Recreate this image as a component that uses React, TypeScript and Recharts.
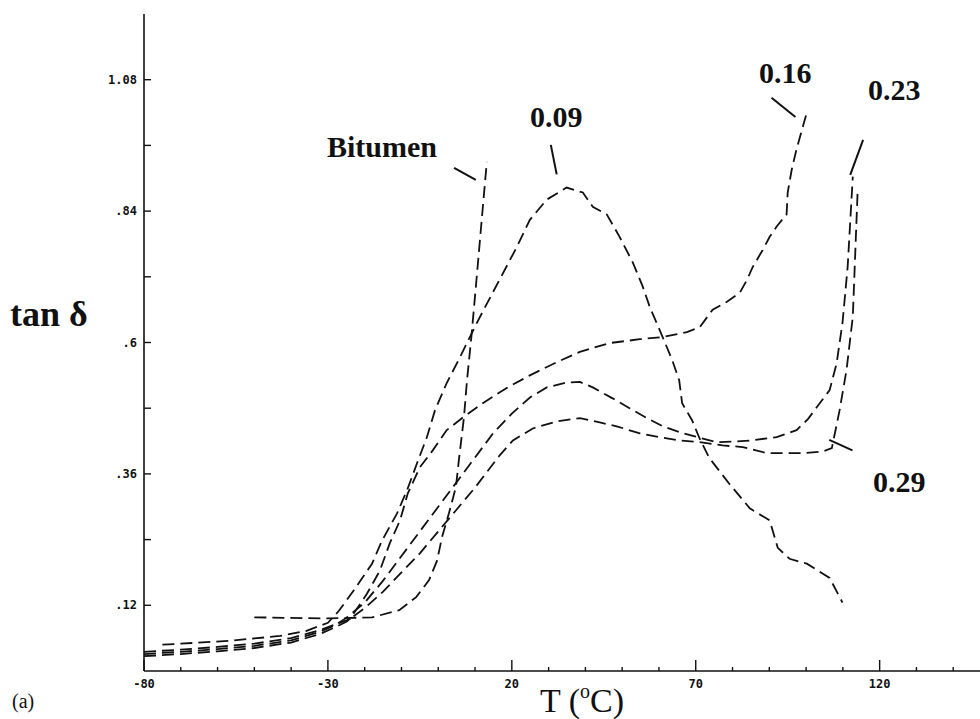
import React from 'react'
import { LineChart, Line, XAxis, YAxis, ReferenceLine } from 'recharts'

// tan delta vs temperature
const bitumenT = [-50, -30, -18, -10.6, -6, -2.5, -0.3, 1.0, 2.9, 4.8, 5.6, 7.0, 7.8, 9.0, 10.2, 11.5, 13.2]
const bitumenTan = [0.098, 0.096, 0.098, 0.111, 0.135, 0.166, 0.202, 0.244, 0.288, 0.336, 0.385, 0.464, 0.53, 0.61, 0.7, 0.8, 0.93]

const s009T = [-75, -57, -43, -36, -30, -27, -23, -18, -15.3, -11.2, -8.5, -5.8, -3.1, -0.9, 2.3, 5.9, 10.5, 14.8, 21.4, 24.9, 29.5, 34.9, 39.3, 42.0, 45.8, 49.3, 52.9, 55.6, 57.5, 61.0, 63.6, 65.5, 66.3, 69, 70.9, 73.6, 79.0, 84.7, 90.1, 92.3, 95.5, 100.2, 106.4, 109.9]
const s009Tan = [0.048, 0.055, 0.064, 0.073, 0.088, 0.11, 0.147, 0.196, 0.238, 0.288, 0.33, 0.379, 0.427, 0.476, 0.526, 0.573, 0.636, 0.691, 0.775, 0.824, 0.861, 0.883, 0.874, 0.848, 0.834, 0.793, 0.746, 0.702, 0.665, 0.61, 0.568, 0.531, 0.489, 0.458, 0.427, 0.39, 0.343, 0.297, 0.275, 0.225, 0.205, 0.196, 0.17, 0.125]

const s016T = [-80, -70, -60, -50, -40, -32, -28, -24, -19.4, -15.9, -13.2, -10.4, -8.3, -5.0, -1.5, 2.3, 6.7, 12.1, 18.6, 24.9, 32.2, 38.5, 46.6, 54.8, 61.0, 67.6, 71.1, 74.6, 78.4, 82.0, 83.9, 85.5, 88.2, 90.1, 92.0, 94.7, 95.0, 96.1, 97.4, 100.2]
const s016Tan = [0.035, 0.039, 0.044, 0.05, 0.06, 0.075, 0.085, 0.095, 0.141, 0.183, 0.233, 0.275, 0.324, 0.372, 0.403, 0.44, 0.463, 0.489, 0.517, 0.54, 0.564, 0.583, 0.599, 0.606, 0.61, 0.619, 0.628, 0.66, 0.674, 0.691, 0.714, 0.738, 0.769, 0.793, 0.812, 0.834, 0.874, 0.916, 0.953, 1.02]

const s023T = [-80, -70, -60, -50, -40, -32, -28, -25, -20, -15, -10, -5, 0, 5, 10, 15, 20, 25, 29.5, 35, 38.5, 42, 47.4, 52, 56.7, 61, 65.7, 70, 75.7, 80, 84.7, 92, 97.4, 100.5, 103.7, 106.4, 108.3, 109.9, 111.3, 112.7]
const s023Tan = [0.031, 0.035, 0.04, 0.046, 0.056, 0.072, 0.084, 0.097, 0.125, 0.165, 0.21, 0.255, 0.3, 0.345, 0.39, 0.435, 0.47, 0.5, 0.518, 0.527, 0.528, 0.518, 0.498, 0.48, 0.462, 0.447, 0.436, 0.428, 0.418, 0.419, 0.421, 0.427, 0.44, 0.46, 0.489, 0.513, 0.562, 0.636, 0.738, 0.903]

const s029T = [-80, -70, -60, -50, -40, -32, -28, -25, -20, -15, -10, -5, 0, 5, 10, 16.7, 20.3, 25.7, 32.2, 38.5, 43.9, 48.5, 54.8, 60.2, 65.7, 71.1, 77.3, 82.8, 89.3, 94.7, 99.1, 104.5, 107, 109.1, 111, 112.7, 114]
const s029Tan = [0.027, 0.031, 0.036, 0.042, 0.052, 0.068, 0.08, 0.09, 0.115, 0.145, 0.18, 0.215, 0.255, 0.295, 0.335, 0.394, 0.421, 0.443, 0.456, 0.462, 0.454, 0.447, 0.434, 0.427, 0.421, 0.418, 0.412, 0.409, 0.398, 0.398, 0.398, 0.401, 0.407, 0.476, 0.55, 0.647, 0.874]

const xTicks = [-80, -70, -60, -50, -40, -30, -20, -10, 0, 10, 20, 30, 40, 50, 60, 70, 80, 90, 100, 110, 120, 130, 140, 150]
const xLabelled = [-80, -30, 20, 70, 120]
const yTicks = [0.12, 0.24, 0.36, 0.48, 0.6, 0.72, 0.84, 0.96, 1.08]
const yLabelled = [0.12, 0.36, 0.6, 0.84, 1.08]
const rightTicks = [0.24, 0.48, 0.72, 0.96]

const zip = (t: number[], v: number[]) => t.map((x, i) => ({ t: x, v: v[i] }))

const series = [
  zip(bitumenT, bitumenTan),
  zip(s009T, s009Tan),
  zip(s016T, s016Tan),
  zip(s023T, s023Tan),
  zip(s029T, s029Tan),
]

const tickFont = '"DejaVu Sans Mono", monospace'
const serif = '"Liberation Serif", "DejaVu Serif", serif'

function BottomTick({ x, y, payload }: any) {
  const major = xLabelled.includes(payload.value)
  return (
    <g>
      <line x1={x} x2={x} y1={y} y2={y - (major ? 11 : 4)} stroke="#111" strokeWidth={1.4} />
      {major && (
        <text x={x} y={y + 17} textAnchor="middle" fontFamily={tickFont} fontSize={12} fontWeight={700} fill="#111">
          {payload.value}
        </text>
      )}
    </g>
  )
}

function TopTick({ x, y, payload }: any) {
  const major = xLabelled.includes(payload.value)
  return <line x1={x} x2={x} y1={y} y2={y + (major ? 8 : 3)} stroke="#111" strokeWidth={1.3} />
}

function LeftTick({ x, y, payload }: any) {
  const v = payload.value
  const shown = yLabelled.includes(v)
  const txt = v < 1 ? String(v).replace(/^0/, '') : v.toFixed(2)
  return (
    <g>
      <line x1={x} x2={x + 7} y1={y} y2={y} stroke="#111" strokeWidth={1.4} />
      {shown && (
        <text x={x - 7} y={y + 4} textAnchor="end" fontFamily={tickFont} fontSize={12} fontWeight={700} fill="#111">
          {txt}
        </text>
      )}
    </g>
  )
}

const leader = { stroke: '#111', strokeWidth: 2, ifOverflow: 'visible' as const }

export default function App() {
  return (
    <div style={{ position: 'absolute', left: 0, top: 0, width: 980, height: 719, overflow: 'hidden', background: '#fff' }}>
      <LineChart width={1000} height={719} margin={{ top: 14, right: 10, bottom: 18, left: 84 }}>
        <XAxis
          dataKey="t"
          type="number"
          domain={[-80, 150]}
          ticks={xTicks}
          allowDataOverflow
          height={30}
          tickSize={0}
          tickMargin={0}
          tickLine={false}
          axisLine={{ stroke: '#111', strokeWidth: 1.6 }}
          tick={<BottomTick />}
          interval={0}
        />
        <XAxis
          xAxisId="top"
          orientation="top"
          dataKey="t"
          type="number"
          domain={[-80, 150]}
          ticks={xTicks}
          height={0}
          tickSize={0}
          tickMargin={0}
          tickLine={false}
          axisLine={{ stroke: '#111', strokeWidth: 1.6 }}
          tick={<TopTick />}
          interval={0}
        />
        <YAxis
          type="number"
          domain={[0, 1.2]}
          ticks={yTicks}
          width={60}
          tickSize={0}
          tickMargin={0}
          tickLine={false}
          axisLine={{ stroke: '#111', strokeWidth: 1.6 }}
          tick={<LeftTick />}
          interval={0}
          allowDataOverflow
        />
        <YAxis
          yAxisId="right"
          orientation="right"
          type="number"
          domain={[0, 1.2]}
          ticks={rightTicks}
          width={0}
          mirror
          tickSize={14}
          tick={false}
          tickLine={{ stroke: '#111', strokeWidth: 1.4 }}
          axisLine={{ stroke: '#111', strokeWidth: 1.6 }}
        />
        {series.map((d, i) => (
          <Line
            key={i}
            data={d}
            dataKey="v"
            type="linear"
            stroke="#111"
            strokeWidth={1.8}
            strokeDasharray="12 6"
            dot={false}
            activeDot={false}
            isAnimationActive={false}
          />
        ))}
        <ReferenceLine segment={[{ x: 4.3, y: 0.919 }, { x: 10.2, y: 0.897 }]} {...leader} />
        <ReferenceLine segment={[{ x: 30.6, y: 0.961 }, { x: 32.2, y: 0.907 }]} {...leader} />
        <ReferenceLine segment={[{ x: 90.6, y: 1.047 }, { x: 97.1, y: 1.012 }]} {...leader} />
        <ReferenceLine segment={[{ x: 115.5, y: 0.97 }, { x: 112.0, y: 0.906 }]} {...leader} />
        <ReferenceLine segment={[{ x: 106.3, y: 0.422 }, { x: 112.6, y: 0.403 }]} {...leader} />
      </LineChart>
      <svg width={980} height={719} style={{ position: 'absolute', left: 0, top: 0, pointerEvents: 'none' }}>
        <g fontFamily={serif} fill="#111">
          <text x={10} y={326} fontSize={36} fontWeight={700}>tan δ</text>
          <text x={540} y={712} fontSize={34}>
            T (<tspan fontSize={20} dy={-14}>o</tspan><tspan dy={14}>C)</tspan>
          </text>
          <text x={12} y={708} fontSize={20}>(a)</text>
          <g fontWeight={700} fontSize={30}>
            <text x={327} y={157}>Bitumen</text>
            <text x={530} y={127}>0.09</text>
            <text x={759} y={83}>0.16</text>
            <text x={868} y={100}>0.23</text>
            <text x={873} y={492}>0.29</text>
          </g>
        </g>
      </svg>
    </div>
  )
}
